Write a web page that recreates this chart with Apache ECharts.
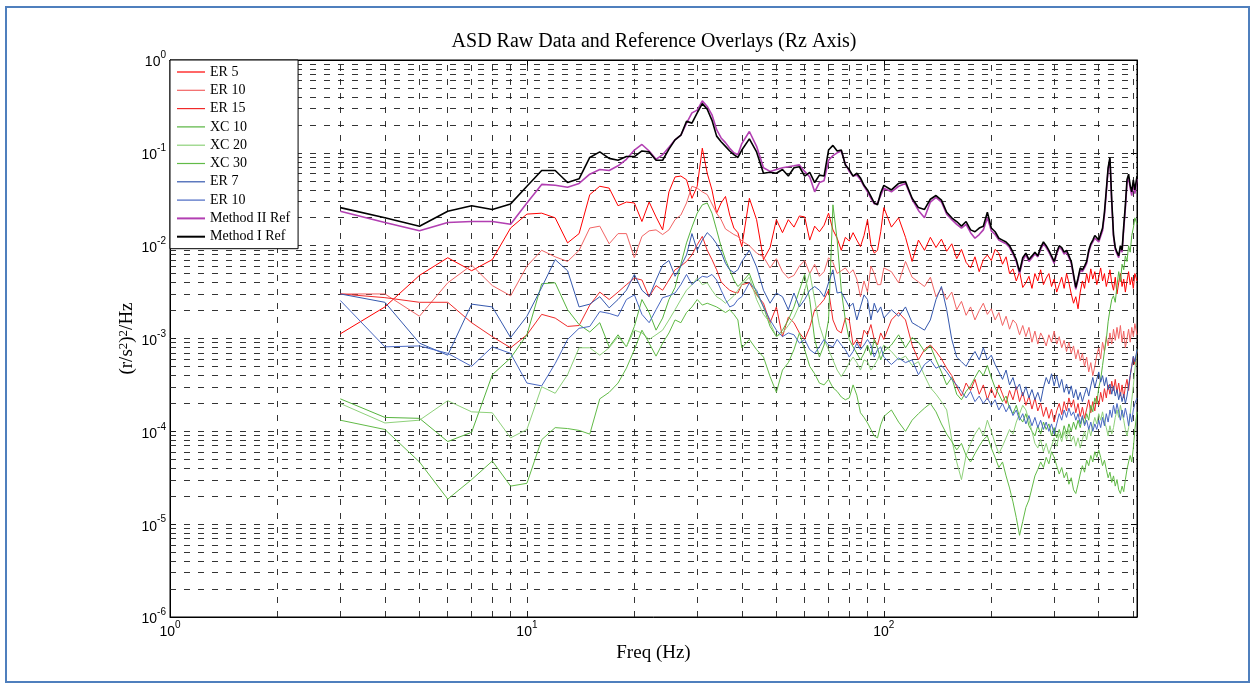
<!DOCTYPE html>
<html>
<head>
<meta charset="utf-8">
<title>ASD Raw Data and Reference Overlays (Rz Axis)</title>
<script src="https://cdn.jsdelivr.net/npm/echarts@6/dist/echarts.min.js"></script>
<style>
  html, body { margin: 0; padding: 0; background: #fff; }
  #main { width: 1254px; height: 687px; }
</style>
</head>
<body>
<div id="main"></div>
<script>
(function () {
  'use strict';

  var SERIF = '"Liberation Serif", "Times New Roman", serif';
  var SANS = '"Liberation Sans", Arial, sans-serif';

  // frequency bins, Hz
  var freq = [
    3, 4, 5, 6, 7, 8, 9, 10, 11, 12, 13, 14, 15, 16, 17, 18, 19, 20,
    21, 22, 23, 24, 25, 26, 27, 28, 29, 30, 31, 32, 33, 34, 35, 36, 37, 38, 39, 40,
    42, 44, 46, 48, 50, 52, 54, 56, 58, 60,
    62, 64, 66, 68, 70, 72, 74, 76, 78, 80,
    82, 84, 86, 88, 90, 92, 94, 96, 98, 100,
    105, 110, 115, 120, 125, 130, 135, 140, 145, 150, 155, 160, 165, 170, 175, 180, 185, 190, 195, 200,
    205, 210, 215, 220, 225, 230, 235, 240, 245, 250, 255, 260, 265, 270, 275, 280, 285, 290, 295, 300,
    305, 310, 315, 320, 325, 330, 335, 340, 345, 350, 355, 360, 365, 370, 375, 380, 385, 390, 395, 400,
    405, 410, 415, 420, 425, 430, 435, 440, 445, 450, 455, 460, 465, 470, 475, 480, 485, 490, 495, 500,
    505, 512
  ];

  // ASD values given as log10 of (r/s^2)^2/Hz
  var er5 = [
    -2.95, -2.66, -2.32, -2.13, -2.27, -2.15, -1.81, -1.66, -1.65, -1.70, -1.97, -1.87, -1.45, -1.36, -1.38, -1.57, -1.53, -1.54,
    -1.74, -1.53, -1.69, -1.83, -1.42, -1.26, -1.25, -1.29, -1.49, -1.36, -0.95, -1.22, -1.40, -1.65, -1.54, -1.47, -1.67, -1.81, -1.86, -2.01,
    -1.49, -1.72, -2.15, -2.02, -1.72, -1.86, -1.72, -1.80, -1.68, -1.69,
    -1.94, -1.79, -1.85, -1.78, -1.65, -1.83, -1.92, -2.05, -1.91, -1.95,
    -1.86, -1.94, -2.01, -1.89, -1.72, -1.99, -2.08, -2.05, -1.85, -1.59,
    -1.80, -1.70, -1.91, -2.17, -1.94, -2.05, -1.91, -2.02, -1.93, -2.06, -1.98, -2.14, -2.04, -2.18, -2.24, -2.12, -2.28, -2.15, -2.10, -2.16,
    -2.04, -2.08, -2.20, -2.12, -2.30, -2.25, -2.38, -2.28, -2.45, -2.40, -2.33, -2.46, -2.30, -2.38, -2.26, -2.42, -2.35, -2.30, -2.44, -2.36,
    -2.50, -2.42, -2.34, -2.46, -2.30, -2.40, -2.52, -2.62, -2.55, -2.68, -2.50, -2.38, -2.46, -2.30, -2.40, -2.25, -2.36, -2.28, -2.42, -2.34,
    -2.24, -2.38, -2.30, -2.44, -2.36, -2.26, -2.40, -2.48, -2.34, -2.52, -2.40, -2.30, -2.44, -2.36, -2.50, -2.38, -2.28, -2.42, -2.34, -2.46,
    -2.30, -2.38
  ];
  var er10 = [
    -2.52, -2.52, -2.76, -2.40, -2.21, -2.43, -2.54, -2.22, -2.05, -2.12, -2.17, -2.05, -1.81, -1.79, -1.98, -1.87, -1.87, -2.13,
    -1.90, -1.84, -1.83, -1.88, -1.83, -1.72, -1.67, -1.54, -1.36, -1.38, -1.42, -1.45, -1.55, -1.65, -1.72, -1.82, -1.85, -1.88, -1.90, -1.95,
    -2.00, -2.08, -2.12, -2.24, -2.14, -2.28, -2.35, -2.32, -2.22, -2.16,
    -2.30, -2.20, -2.33, -2.28, -2.13, -2.18, -2.30, -2.27, -2.24, -2.30,
    -2.26, -2.36, -2.55, -2.38, -2.50, -2.22, -2.30, -2.42, -2.42, -2.24,
    -2.28, -2.40, -2.17, -2.34, -2.39, -2.44, -2.34, -2.55, -2.46, -2.58, -2.50, -2.69, -2.60, -2.75, -2.66, -2.80, -2.70, -2.62, -2.74, -2.68,
    -2.80, -2.72, -2.86, -2.76, -2.90, -2.80, -2.84, -2.96, -2.86, -2.98, -2.88, -3.04, -2.92, -3.06, -2.94, -3.00, -3.08, -2.96, -3.04, -2.92,
    -3.06, -2.98, -3.10, -3.02, -3.14, -3.04, -3.16, -3.08, -3.22, -3.12, -3.24, -3.16, -3.30, -3.20, -3.36, -3.26, -3.40, -3.30, -3.18, -3.10,
    -3.22, -3.04, -3.14, -2.98, -3.08, -2.94, -3.06, -2.90, -3.02, -2.88, -3.00, -2.86, -3.04, -2.92, -3.10, -3.00, -2.90, -3.04, -2.88, -2.98,
    -2.84, -2.96
  ];
  var er15 = [
    -2.52, -2.56, -2.61, -2.61, -2.83, -2.98, -3.10, -2.96, -2.74, -2.78, -2.87, -2.86, -2.64, -2.50, -2.58, -2.50, -2.42, -2.35,
    -2.37, -2.55, -2.43, -2.48, -2.37, -2.26, -2.22, -2.17, -2.10, -1.99, -1.90, -2.05, -2.15, -2.26, -2.39, -2.44, -2.48, -2.50, -2.51, -2.42,
    -2.40, -2.53, -2.62, -2.83, -2.66, -2.98, -2.77, -2.83, -2.94, -3.01,
    -2.88, -2.69, -2.64, -2.58, -2.48, -2.80, -2.91, -2.94, -2.78, -2.80,
    -3.07, -3.01, -3.09, -2.91, -2.96, -2.85, -3.01, -3.07, -2.94, -3.01,
    -2.80, -2.72, -2.80, -3.07, -3.23, -3.12, -3.07, -3.14, -3.22, -3.32, -3.40, -3.52, -3.62, -3.48, -3.56, -3.44, -3.60, -3.50, -3.66, -3.54,
    -3.64, -3.50, -3.60, -3.70, -3.56, -3.66, -3.52, -3.68, -3.58, -3.72, -3.62, -3.76, -3.64, -3.78, -3.70, -3.84, -3.74, -3.86, -3.76, -3.90,
    -3.78, -3.70, -3.82, -3.68, -3.78, -3.64, -3.74, -3.66, -3.80, -3.70, -3.84, -3.74, -3.86, -3.76, -3.66, -3.80, -3.68, -3.78, -3.62, -3.72,
    -3.58, -3.68, -3.54, -3.64, -3.50, -3.60, -3.46, -3.56, -3.44, -3.58, -3.48, -3.62, -3.50, -3.64, -3.52, -3.44, -3.56, -3.40, -3.30, -3.20,
    -3.28, -3.14
  ];
  var xc10 = [
    -3.65, -3.85, -3.86, -4.11, -4.01, -3.39, -3.21, -2.96, -2.41, -2.40, -2.69, -2.85, -2.93, -2.83, -3.09, -2.96, -3.09, -2.87,
    -2.58, -2.72, -2.91, -2.78, -2.58, -2.45, -2.20, -1.97, -1.80, -1.65, -1.56, -1.54, -1.65, -1.83, -2.01, -2.15, -2.26, -2.37, -2.44, -2.40,
    -2.30, -2.51, -2.66, -2.87, -2.98, -2.91, -2.80, -2.66, -2.48, -2.31,
    -2.58, -3.01, -3.20, -3.07, -2.80, -1.56, -1.94, -2.48, -2.80, -3.01,
    -3.09, -3.16, -3.23, -3.16, -3.07, -3.18, -3.01, -3.10, -3.23, -3.14,
    -3.07, -2.96, -3.10, -2.99, -3.04, -3.14, -3.08, -3.23, -3.36, -3.50, -3.42, -3.60, -3.66, -3.57, -3.51, -3.42, -3.34, -3.40, -3.29, -3.42,
    -3.53, -3.60, -3.68, -3.62, -3.75, -3.81, -3.72, -3.85, -3.90, -3.81, -3.94, -4.00, -4.05, -3.94, -4.03, -3.90, -3.98, -3.92, -4.05, -3.96,
    -4.07, -3.98, -4.07, -3.94, -4.03, -3.92, -4.00, -3.90, -3.98, -3.88, -3.96, -3.85, -3.92, -3.81, -3.88, -3.72, -3.79, -3.64, -3.70, -3.53,
    -3.44, -3.29, -3.14, -3.01, -2.82, -2.69, -2.58, -2.54, -2.61, -2.43, -2.28, -2.39, -2.20, -2.26, -2.11, -2.17, -2.00, -2.07, -1.89, -1.81,
    -1.70, -1.77
  ];
  var xc20 = [
    -3.70, -3.91, -3.88, -3.67, -3.79, -3.80, -4.07, -3.98, -3.52, -3.59, -3.39, -3.10, -3.10, -3.18, -3.10, -2.98, -3.09, -2.91,
    -2.94, -3.01, -2.96, -2.91, -2.80, -2.69, -2.58, -2.48, -2.42, -2.35, -2.42, -2.40, -2.48, -2.55, -2.58, -2.62, -2.58, -2.54, -2.48, -2.42,
    -2.34, -2.58, -2.74, -2.83, -2.98, -2.94, -2.86, -2.77, -2.64, -2.48,
    -2.29, -2.58, -2.86, -3.01, -3.12, -3.23, -3.34, -3.41, -3.34, -3.26,
    -3.20, -3.26, -3.34, -3.23, -3.25, -3.34, -3.29, -3.23, -3.14, -3.07,
    -3.14, -3.23, -3.19, -3.29, -3.25, -3.40, -3.53, -3.60, -3.68, -3.77, -4.09, -4.33, -4.52, -4.26, -4.13, -4.03, -3.96, -4.05, -3.88, -4.00,
    -4.13, -4.24, -4.16, -4.07, -3.98, -4.03, -3.90, -3.81, -3.72, -3.77, -3.88, -4.00, -4.13, -4.18, -4.09, -4.22, -4.13, -4.24, -4.16, -4.07,
    -4.16, -4.03, -4.11, -4.00, -4.09, -3.98, -4.11, -4.05, -4.16, -4.07, -4.18, -4.09, -4.00, -4.09, -3.96, -4.05, -3.94, -3.85, -3.92, -3.81,
    -3.88, -3.79, -3.90, -3.96, -4.05, -3.94, -4.03, -3.96, -3.85, -3.77, -3.85, -3.72, -3.81, -3.88, -3.98, -4.05, -3.96, -3.81, -3.66, -3.51,
    -3.34, -3.12
  ];
  var xc30 = [
    -3.88, -3.98, -4.33, -4.73, -4.52, -4.32, -4.59, -4.56, -4.09, -3.96, -3.97, -3.99, -4.03, -3.65, -3.58, -3.48, -3.32, -3.12,
    -2.91, -3.05, -3.19, -3.05, -2.94, -2.80, -2.83, -2.72, -2.66, -2.58, -2.64, -2.62, -2.64, -2.66, -2.69, -2.72, -2.69, -2.74, -2.80, -3.10,
    -3.01, -3.12, -3.20, -3.41, -3.58, -3.34, -3.26, -3.12, -2.94, -3.12,
    -3.30, -3.38, -3.48, -3.50, -3.44, -3.53, -3.57, -3.63, -3.66, -3.64,
    -3.50, -3.61, -3.80, -3.85, -3.91, -3.98, -4.05, -4.07, -3.93, -3.84,
    -3.77, -3.90, -4.00, -3.88, -3.81, -3.75, -3.70, -3.79, -3.92, -4.03, -4.11, -4.20, -4.13, -4.26, -4.33, -4.24, -4.16, -4.09, -4.05, -4.18,
    -4.28, -4.39, -4.33, -4.48, -4.61, -4.76, -4.93, -5.12, -4.97, -4.82, -4.74, -4.61, -4.48, -4.41, -4.33, -4.39, -4.28, -4.35, -4.22, -4.28,
    -4.37, -4.46, -4.39, -4.50, -4.44, -4.57, -4.50, -4.63, -4.67, -4.57, -4.46, -4.37, -4.44, -4.31, -4.37, -4.26, -4.33, -4.22, -4.28, -4.20,
    -4.28, -4.37, -4.31, -4.41, -4.50, -4.44, -4.55, -4.48, -4.59, -4.52, -4.63, -4.67, -4.59, -4.65, -4.52, -4.41, -4.33, -4.26, -4.33, -4.18,
    -3.98, -3.79
  ];
  var er7 = [
    -2.52, -2.61, -3.05, -3.18, -2.63, -2.66, -2.99, -2.76, -2.45, -2.15, -2.27, -2.66, -2.63, -2.55, -2.67, -2.58, -2.48, -2.31,
    -2.48, -2.55, -2.37, -2.21, -2.16, -2.33, -2.22, -2.10, -1.87, -2.05, -1.94, -1.86, -1.91, -1.98, -2.07, -2.19, -2.26, -2.29, -2.26, -2.17,
    -2.05, -2.23, -2.48, -2.62, -2.51, -2.55, -2.69, -2.51, -2.66, -2.58,
    -2.48, -2.44, -2.48, -2.55, -2.40, -2.26, -2.51, -2.50, -2.58, -2.66,
    -2.62, -2.80, -2.66, -2.53, -2.58, -2.80, -2.62, -2.72, -2.66, -2.78,
    -2.69, -2.76, -2.66, -2.83, -2.87, -2.91, -2.80, -2.58, -2.44, -2.69, -3.01, -3.20, -3.25, -3.30, -3.21, -3.14, -3.23, -3.10, -3.23, -3.18,
    -3.28, -3.36, -3.44, -3.34, -3.50, -3.42, -3.55, -3.49, -3.62, -3.52, -3.64, -3.55, -3.66, -3.58, -3.68, -3.53, -3.42, -3.49, -3.38, -3.51,
    -3.40, -3.53, -3.44, -3.58, -3.49, -3.60, -3.51, -3.64, -3.55, -3.66, -3.58, -3.68, -3.60, -3.53, -3.62, -3.51, -3.42, -3.53, -3.44, -3.36,
    -3.47, -3.40, -3.51, -3.42, -3.55, -3.49, -3.60, -3.51, -3.62, -3.55, -3.66, -3.58, -3.68, -3.60, -3.70, -3.62, -3.51, -3.40, -3.29, -3.19,
    -3.25, -3.12
  ];
  var er10b = [
    -2.59, -3.09, -3.08, -3.16, -3.30, -3.09, -3.16, -3.48, -3.51, -3.27, -3.01, -2.89, -2.87, -2.71, -2.73, -2.76, -2.58, -2.53,
    -2.74, -2.83, -2.69, -2.56, -2.54, -2.51, -2.42, -2.31, -2.42, -2.37, -2.33, -2.34, -2.31, -2.37, -2.48, -2.58, -2.66, -2.64, -2.58, -2.55,
    -2.40, -2.48, -2.66, -2.80, -2.91, -2.98, -2.94, -2.96, -3.05, -3.01,
    -3.12, -3.16, -3.09, -3.01, -3.07, -3.09, -3.01, -3.07, -3.12, -3.20,
    -3.14, -3.05, -3.12, -3.07, -3.01, -3.07, -3.20, -3.12, -3.09, -3.20,
    -3.28, -3.21, -3.26, -3.23, -3.39, -3.28, -3.23, -3.32, -3.29, -3.36, -3.44, -3.50, -3.57, -3.64, -3.57, -3.68, -3.62, -3.70, -3.64, -3.72,
    -3.66, -3.77, -3.70, -3.79, -3.72, -3.83, -3.77, -3.88, -3.81, -3.92, -3.83, -3.94, -3.85, -3.96, -3.88, -3.98, -3.90, -4.00, -3.92, -4.03,
    -3.92, -3.81, -3.88, -3.77, -3.85, -3.75, -3.83, -3.79, -3.88, -3.81, -3.92, -3.83, -3.94, -3.88, -3.98, -3.90, -4.00, -3.92, -3.98, -3.88,
    -3.96, -3.85, -3.94, -3.81, -3.90, -3.77, -3.85, -3.72, -3.81, -3.70, -3.79, -3.88, -3.77, -3.85, -3.75, -3.83, -3.94, -3.81, -3.90, -3.77,
    -3.70, -3.64
  ];
  var method2 = [
    -1.63, -1.75, -1.84, -1.75, -1.74, -1.74, -1.77, -1.54, -1.34, -1.35, -1.37, -1.33, -1.23, -1.18, -1.19, -1.14, -1.07, -0.97,
    -0.91, -0.98, -1.07, -1.02, -0.94, -0.86, -0.81, -0.68, -0.57, -0.54, -0.44, -0.50, -0.59, -0.75, -0.84, -0.89, -0.95, -1.00, -1.02, -0.90,
    -0.77, -0.93, -1.16, -1.20, -1.18, -1.16, -1.15, -1.14, -1.13, -1.20,
    -1.26, -1.42, -1.32, -1.30, -1.08, -1.03, -1.00, -0.98, -1.12, -1.20,
    -1.25, -1.24, -1.29, -1.36, -1.42, -1.49, -1.55, -1.54, -1.46, -1.38,
    -1.42, -1.36, -1.33, -1.50, -1.62, -1.70, -1.53, -1.48, -1.53, -1.66, -1.72, -1.77, -1.81, -1.77, -1.86, -1.92, -1.88, -1.83, -1.70, -1.84,
    -1.88, -1.94, -1.96, -1.98, -2.02, -2.09, -2.17, -2.30, -2.16, -2.10, -2.17, -2.13, -2.09, -2.12, -2.04, -1.98, -2.02, -2.07, -2.13, -2.19,
    -2.09, -2.02, -2.04, -2.09, -2.07, -2.13, -2.19, -2.33, -2.47, -2.37, -2.26, -2.28, -2.24, -2.19, -2.07, -2.00, -1.96, -1.92, -1.91, -1.96,
    -1.98, -1.84, -1.67, -1.43, -1.18, -1.07, -1.54, -1.90, -2.04, -2.09, -2.13, -2.02, -2.07, -1.82, -1.60, -1.33, -1.27, -1.38, -1.46, -1.33,
    -1.44, -1.28
  ];
  var method1 = [
    -1.59, -1.70, -1.79, -1.63, -1.57, -1.61, -1.55, -1.36, -1.19, -1.19, -1.32, -1.28, -1.05, -0.99, -1.06, -1.08, -1.04, -1.04,
    -0.98, -0.99, -1.08, -1.08, -0.96, -0.86, -0.81, -0.66, -0.68, -0.57, -0.47, -0.53, -0.65, -0.82, -0.88, -0.93, -0.98, -1.02, -1.05, -0.97,
    -0.85, -0.99, -1.22, -1.21, -1.22, -1.18, -1.25, -1.16, -1.15, -1.25,
    -1.21, -1.32, -1.24, -1.25, -0.97, -0.92, -0.98, -0.97, -1.13, -1.18,
    -1.25, -1.22, -1.27, -1.35, -1.40, -1.47, -1.54, -1.56, -1.43, -1.35,
    -1.40, -1.33, -1.31, -1.49, -1.59, -1.61, -1.50, -1.46, -1.51, -1.64, -1.70, -1.74, -1.79, -1.74, -1.83, -1.85, -1.81, -1.79, -1.64, -1.81,
    -1.85, -1.92, -1.94, -1.96, -2.00, -2.07, -2.15, -2.28, -2.13, -2.08, -2.15, -2.11, -2.07, -2.11, -2.02, -1.96, -2.00, -2.05, -2.11, -2.17,
    -2.07, -2.00, -2.02, -2.07, -2.05, -2.11, -2.17, -2.31, -2.45, -2.35, -2.24, -2.26, -2.22, -2.17, -2.05, -1.98, -1.94, -1.89, -1.88, -1.94,
    -1.96, -1.81, -1.64, -1.40, -1.16, -1.05, -1.51, -1.88, -2.02, -2.07, -2.11, -2.00, -2.05, -1.79, -1.56, -1.29, -1.23, -1.35, -1.42, -1.29,
    -1.40, -1.25
  ];

  // grid lines (MATLAB style major + minor)
  var xGridTicks = [2, 3, 4, 5, 6, 7, 8, 9, 10, 20, 30, 40, 50, 60, 70, 80, 90, 100, 200, 300, 400, 500];
  var yDecades = [-6, -5, -4, -3, -2, -1];
  var mantissas = [1, 2, 3, 4, 5, 6, 7, 8, 9];

  var names = ['ER 5', 'ER 10', 'ER 15', 'XC 10', 'XC 20', 'XC 30', 'ER 7', 'ER 10 ', 'Method II Ref', 'Method I Ref'];
  var colors = ['#ff0000', '#f26464', '#f02a2a', '#56b43e', '#8ed17a', '#62bb47', '#3558ae', '#4867c2', '#b23fb2', '#000000'];
  var widths = [1, 1, 1, 1, 1, 1, 1, 1, 1.6, 1.6];
  var values = [er5, er10, er15, xc10, xc20, xc30, er7, er10b, method2, method1];

  function pts(vals) {
    return freq.map(function (f, i) {
      return [f, Math.pow(10, vals[i])];
    });
  }

  var gridLines = [];
  xGridTicks.forEach(function (v) { gridLines.push({ xAxis: v }); });
  yDecades.forEach(function (d) {
    mantissas.forEach(function (m) {
      if (d === -6 && m === 1) return;
      gridLines.push({ yAxis: m * Math.pow(10, d) });
    });
  });

  var series = [{
    name: 'grid',
    type: 'line',
    data: [],
    silent: true,
    z: 1,
    markLine: {
      z: 1,
      silent: true,
      animation: false,
      precision: 12,
      symbol: ['none', 'none'],
      label: { show: false },
      emphasis: { disabled: true },
      lineStyle: { color: '#1e1e1e', width: 1, type: [6, 8], opacity: 0.9 },
      data: gridLines
    }
  }];
  names.forEach(function (n, i) {
    series.push({
      name: n,
      type: 'line',
      data: pts(values[i]),
      symbol: 'none',
      showSymbol: false,
      silent: true,
      z: 3,
      emphasis: { disabled: true },
      lineStyle: { color: colors[i], width: widths[i] },
      itemStyle: { color: colors[i] }
    });
  });

  var legendData = names.map(function (n, i) {
    return {
      name: n,
      icon: widths[i] > 1 ? 'path://M0,0H28V2H0Z' : 'path://M0,0H28V1.2H0Z',
      itemStyle: { color: colors[i] }
    };
  });

  function logLabel(v) {
    var n = Math.log10(v);
    var r = Math.round(n);
    if (Math.abs(n - r) > 1e-6) return '';
    return '{b|10}{s|' + r + '}';
  }
  var tickRich = {
    b: { fontFamily: SANS, fontSize: 14, color: '#000', lineHeight: 19, verticalAlign: 'bottom' },
    s: { fontFamily: SANS, fontSize: 10, color: '#000', verticalAlign: 'top' }
  };

  var axisCommon = {
    type: 'log',
    logBase: 10,
    axisLine: { show: true, onZero: false, lineStyle: { color: '#000', width: 1 } },
    axisTick: { show: true, inside: true, length: 6, lineStyle: { color: '#000' } },
    splitLine: { show: false }
  };

  var myChart = echarts.init(document.getElementById('main'), null, { renderer: 'canvas' });

  var option = {
    animation: false,
    backgroundColor: '#fff',
    title: {
      text: 'ASD Raw Data and Reference Overlays (Rz Axis)',
      left: 654,
      top: 32,
      padding: 0,
      textAlign: 'center',
      textStyle: { fontFamily: SERIF, fontSize: 20, fontWeight: 'normal', color: '#000' }
    },
    legend: {
      data: legendData,
      z: 10,
      left: 170,
      top: 60,
      orient: 'vertical',
      selectedMode: false,
      symbolKeepAspect: true,
      backgroundColor: '#fff',
      borderColor: '#000',
      borderWidth: 1,
      borderRadius: 0,
      padding: [5, 8, 5, 7],
      itemWidth: 28,
      itemHeight: 14,
      itemGap: 4.3,
      textStyle: { fontFamily: SERIF, fontSize: 14, color: '#000', lineHeight: 14 }
    },
    grid: {
      left: 170,
      top: 60,
      width: 967,
      height: 557,
      show: true,
      borderColor: '#000',
      borderWidth: 1,
      backgroundColor: 'transparent'
    },
    xAxis: [
      Object.assign({}, axisCommon, {
        position: 'bottom',
        min: 1,
        max: 512,
        name: 'Freq (Hz)',
        nameLocation: 'middle',
        nameGap: 27,
        nameMoveOverlap: false,
        nameTextStyle: { fontFamily: SERIF, fontSize: 19, color: '#000' },
        axisLabel: { margin: 3, formatter: logLabel, rich: tickRich, color: '#000' }
      }),
      Object.assign({}, axisCommon, {
        position: 'top',
        min: 1,
        max: 512,
        axisLabel: { show: false }
      })
    ],
    yAxis: [
      Object.assign({}, axisCommon, {
        position: 'left',
        min: 1e-6,
        max: 1,
        name: '{n|(r/s}{p|2}{n|)}{p|2}{n|/Hz}',
        nameLocation: 'middle',
        nameGap: 33,
        nameMoveOverlap: false,
        nameTextStyle: {
          color: '#000',
          rich: {
            n: { fontFamily: SERIF, fontSize: 19, color: '#000', lineHeight: 20, verticalAlign: 'bottom' },
            p: { fontFamily: SERIF, fontSize: 13, color: '#000', verticalAlign: 'top' }
          }
        },
        axisLabel: { margin: 4, formatter: logLabel, rich: tickRich, color: '#000' }
      }),
      Object.assign({}, axisCommon, {
        position: 'right',
        min: 1e-6,
        max: 1,
        axisLabel: { show: false }
      })
    ],
    graphic: [{
      type: 'rect',
      silent: true,
      shape: { x: 6, y: 7, width: 1243, height: 675 },
      style: { fill: 'none', stroke: '#4f7fbd', lineWidth: 2 }
    }],
    series: series
  };

  myChart.setOption(option);
}());
</script>
</body>
</html>
